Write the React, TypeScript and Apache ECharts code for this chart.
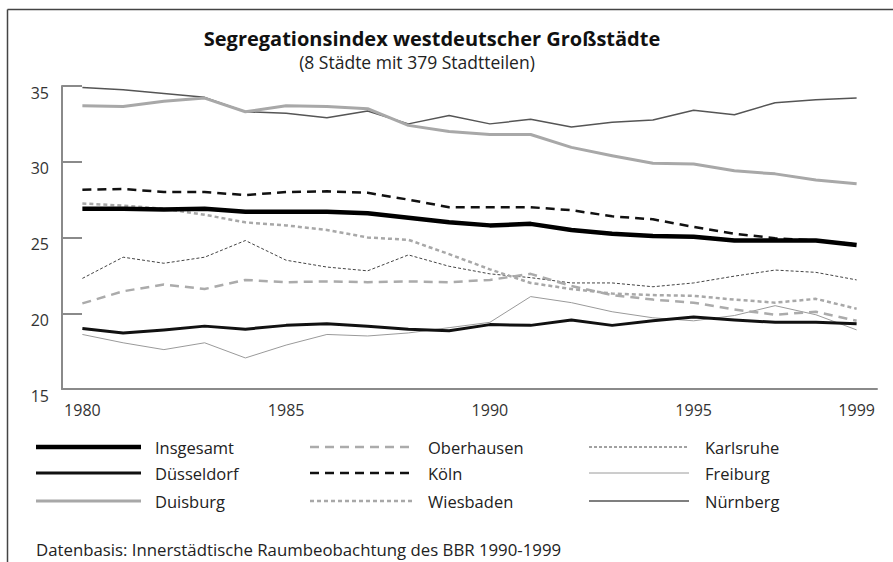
import React, { useEffect, useRef } from "react";
import * as echarts from "echarts";

const years = ["1980","1981","1982","1983","1984","1985","1986","1987","1988","1989","1990","1991","1992","1993","1994","1995","1996","1997","1998","1999"];
const shownYearLabels = ["1980", "1985", "1990", "1995", "1999"];

const insgesamt = [26.9, 26.9, 26.85, 26.9, 26.7, 26.7, 26.7, 26.6, 26.3, 26.0, 25.8, 25.9, 25.5, 25.25, 25.1, 25.05, 24.8, 24.8, 24.8, 24.5];
const duesseldorf = [19.0, 18.7, 18.9, 19.15, 18.95, 19.2, 19.3, 19.15, 18.95, 18.85, 19.25, 19.2, 19.55, 19.2, 19.5, 19.75, 19.55, 19.4, 19.4, 19.3];
const duisburg = [33.7, 33.65, 34.0, 34.2, 33.3, 33.7, 33.65, 33.5, 32.4, 32.0, 31.8, 31.8, 30.95, 30.4, 29.9, 29.85, 29.4, 29.2, 28.8, 28.55];
const oberhausen = [20.65, 21.45, 21.9, 21.6, 22.2, 22.05, 22.1, 22.05, 22.1, 22.05, 22.2, 22.6, 21.8, 21.2, 20.9, 20.7, 20.25, 19.9, 20.1, 19.5];
const koeln = [28.15, 28.2, 28.0, 28.0, 27.8, 28.0, 28.05, 27.95, 27.5, 27.0, 27.0, 27.0, 26.8, 26.4, 26.2, 25.7, 25.25, 24.95, 24.8, 24.55];
const wiesbaden = [27.25, 27.1, 26.9, 26.5, 26.0, 25.8, 25.5, 25.0, 24.85, 23.9, 22.9, 22.0, 21.6, 21.3, 21.2, 21.15, 20.9, 20.7, 20.95, 20.3];
const karlsruhe = [22.3, 23.7, 23.3, 23.7, 24.8, 23.5, 23.05, 22.8, 23.85, 23.1, 22.6, 22.35, 22.0, 22.0, 21.75, 22.0, 22.45, 22.85, 22.7, 22.2];
const freiburg = [18.6, 18.05, 17.6, 18.05, 17.05, 17.9, 18.6, 18.5, 18.7, 19.05, 19.4, 21.1, 20.7, 20.1, 19.7, 19.5, 19.85, 20.5, 19.9, 18.9];
const nuernberg = [34.9, 34.75, 34.5, 34.25, 33.3, 33.2, 32.9, 33.35, 32.5, 33.05, 32.5, 32.8, 32.3, 32.6, 32.75, 33.4, 33.1, 33.9, 34.1, 34.2];

const seriesNames = ["Insgesamt", "Düsseldorf", "Duisburg", "Oberhausen", "Köln", "Wiesbaden", "Karlsruhe", "Freiburg", "Nürnberg"];
const seriesData = [insgesamt, duesseldorf, duisburg, oberhausen, koeln, wiesbaden, karlsruhe, freiburg, nuernberg];

const title = "Segregationsindex westdeutscher Großstädte";
const subtitle = "(8 Städte mit 379 Stadtteilen)";
const source = "Datenbasis: Innerstädtische Raumbeobachtung des BBR 1990-1999";

const FONT = "'Open Sans', 'Noto Sans', sans-serif";

// line styles per series (same order as seriesNames)
const styles: any[] = [
  { color: "#000", width: 4.5, type: "solid" },
  { color: "#111", width: 3, type: "solid" },
  { color: "#a8a8a8", width: 3, type: "solid" },
  { color: "#ababab", width: 2.5, type: [9, 6] },
  { color: "#111", width: 2.5, type: [9, 6] },
  { color: "#a8a8a8", width: 2.5, type: [4, 3] },
  { color: "#444", width: 1, type: [3, 2] },
  { color: "#9a9a9a", width: 1, type: "solid" },
  { color: "#555", width: 1.5, type: "solid" },
];
const zOrder = [10, 8, 5, 6, 7, 6, 4, 3, 4];

// legend layout: column x positions and row y positions
const legendCols = [
  { x0: 36, x1: 141, tx: 155 },
  { x0: 310, x1: 415, tx: 428 },
  { x0: 589, x1: 689, tx: 705 },
];
const legendRows = [447, 473, 501];

export default function App() {
  const ref = useRef<HTMLDivElement>(null);
  useEffect(() => {
    if (!ref.current) return;
    const chart = echarts.init(ref.current, undefined, { renderer: "svg" });

    const graphics: any[] = [
      { type: "line", shape: { x1: 7.5, y1: 9.5, x2: 893, y2: 9.5 }, style: { stroke: "#444", lineWidth: 1.5 } },
      { type: "line", shape: { x1: 7.5, y1: 9.5, x2: 7.5, y2: 562 }, style: { stroke: "#444", lineWidth: 1.5 } },
      { type: "text", x: 432, y: 38, style: { text: title, fontFamily: FONT, fontWeight: "bold", fontSize: 20, fill: "#111", textAlign: "center", textVerticalAlign: "middle" } },
      { type: "text", x: 417, y: 62, style: { text: subtitle, fontFamily: FONT, fontSize: 17.5, fill: "#222", textAlign: "center", textVerticalAlign: "middle" } },
      { type: "text", x: 36, y: 549, style: { text: source, fontFamily: FONT, fontSize: 16.8, fill: "#222", textAlign: "left", textVerticalAlign: "middle" } },
    ];
    seriesNames.forEach((name, i) => {
      const col = legendCols[Math.floor(i / 3)];
      const y = legendRows[i % 3];
      const s = styles[i];
      graphics.push({
        type: "line",
        shape: { x1: col.x0, y1: y, x2: col.x1, y2: y },
        style: { stroke: s.color, lineWidth: s.width, lineDash: Array.isArray(s.type) ? s.type : null },
      });
      graphics.push({
        type: "text",
        x: col.tx,
        y: y,
        style: { text: name, fontFamily: FONT, fontSize: 16.5, fill: "#222", textAlign: "left", textVerticalAlign: "middle" },
      });
    });

    chart.setOption({
      animation: false,
      backgroundColor: "#fff",
      grid: { left: 62, right: 16, top: 86, bottom: 173, containLabel: false },
      xAxis: {
        type: "category",
        data: years,
        boundaryGap: true,
        axisLine: { lineStyle: { color: "#8a8a8a", width: 2 } },
        axisTick: { inside: true, length: 7, interval: 0, alignWithLabel: false, lineStyle: { color: "#8a8a8a", width: 2 } },
        axisLabel: {
          interval: 0,
          formatter: (v: string) => (shownYearLabels.includes(v) ? v : ""),
          margin: 13,
          fontSize: 16,
          color: "#333",
          fontFamily: FONT,
        },
        splitLine: { show: false },
      },
      yAxis: {
        type: "value",
        min: 15,
        max: 35,
        interval: 5,
        axisLine: { show: true, lineStyle: { color: "#8a8a8a", width: 2 } },
        axisTick: { show: true, inside: true, length: 20, lineStyle: { color: "#8a8a8a", width: 2 } },
        axisLabel: { margin: 13, fontSize: 16, color: "#333", fontFamily: FONT, verticalAlign: "top", lineHeight: 13 },
        splitLine: { show: false },
      },
      graphic: graphics,
      series: seriesNames.map((name, i) => ({
        name,
        type: "line",
        data: seriesData[i],
        symbol: "none",
        z: zOrder[i],
        lineStyle: { color: styles[i].color, width: styles[i].width, type: styles[i].type, cap: "butt", join: "round" },
        itemStyle: { color: styles[i].color },
      })),
    });
    return () => chart.dispose();
  }, []);
  return <div ref={ref} style={{ position: "absolute", left: 0, top: 0, width: 893, height: 562 }} />;
}
